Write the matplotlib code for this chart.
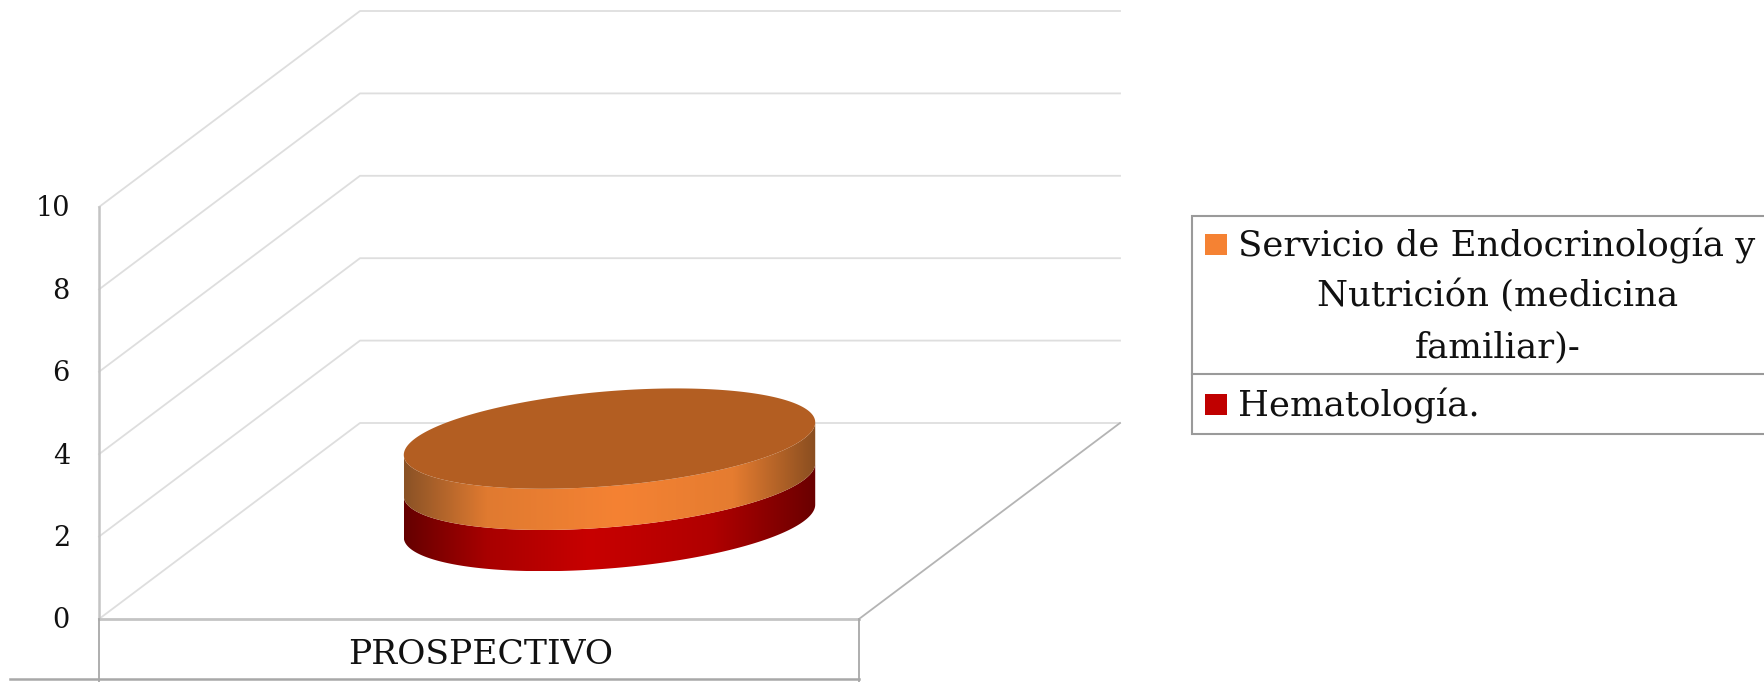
import numpy as np
import matplotlib
matplotlib.use("Agg")
from matplotlib import pyplot as plt
from matplotlib.colors import LinearSegmentedColormap
from matplotlib.patches import Polygon, Rectangle

y_ticks = [0, 2, 4, 6, 8, 10]
category = "PROSPECTIVO"
series_names = ["Hematología.", "Servicio de Endocrinología y"]
series_values = [1, 1]    # stacked from the floor up

RED = "#C00000"
ORANGE = "#F58233"
FONT = ["DejaVu Serif"]
TXT = "#111111"
LEG_SIZE = 25.6

# the fake 3d box, in image pixels
X0, X1 = 99, 859          # front edge of the floor
Y0 = 619                  # value 0 on the front edge
Y_UNIT = 41.2             # pixels per value
DX, DY = 261, 196         # depth of the box
RADIUS = 0.256            # cylinder radius, share of the floor


def proj(u, v, z):  # u along category, v along depth, z value
    return X0 + u*(X1-X0) + v*DX, Y0 - z*Y_UNIT - v*DY


def side_band(ax, z0, z1, colors, stops):
    # outline of the visible side between two heights
    t = np.linspace(0, 2*np.pi, 400)
    u = 0.5 + RADIUS*np.cos(t)
    v = 0.5 + RADIUS*np.sin(t)
    x, y = proj(u, v, 0)
    left, right = np.argmin(x), np.argmax(x)
    idx = np.arange(left, left+400) % 400
    stop = np.where(idx == right)[0][0]
    idx = idx[:stop+1]
    xb, yb = x[idx], y[idx]   # front half of the ellipse, left to right
    low = np.column_stack([xb, yb - z0*Y_UNIT])
    top = np.column_stack([xb, yb - z1*Y_UNIT])[::-1]
    outline = np.vstack([low, top])
    cmap = LinearSegmentedColormap.from_list("side", list(zip(stops, colors)))
    grad = np.linspace(0, 1, 256).reshape(1, -1)
    im = ax.imshow(grad, cmap=cmap, aspect="auto", interpolation="bilinear",
                   extent=[xb.min(), xb.max(), outline[:, 1].max(), outline[:, 1].min()],
                   zorder=3)
    clip = Polygon(outline, closed=True, transform=ax.transData, fc="none", ec="none")
    ax.add_patch(clip)
    im.set_clip_path(clip)


fig = plt.figure(figsize=(17.65, 6.82), dpi=100)
ax = fig.add_axes([0, 0, 1, 1])
ax.set_axis_off()

# walls and gridlines
for val in y_ticks:
    xa, ya = proj(0, 0, val)
    xb, yb = proj(0, 1, val)
    xc, yc = proj(1, 1, val)
    ax.plot([xa, xb, xc], [ya, yb, yc], color="#dedede", lw=1.3, zorder=1)
    ax.text(70, ya + 2, str(val), ha="right", va="center", fontsize=19.5,
            family=FONT, color=TXT)

xa, ya = proj(0, 0, 0)
xb, yb = proj(0, 0, y_ticks[-1])
ax.plot([xa, xb], [ya, yb], color="#c4c4c4", lw=1.8, zorder=2)

# floor
xr, yr = proj(1, 0, 0)
xe, ye = proj(1, 1, 0)
ax.plot([xr, xe], [yr, ye], color="#b4b4b4", lw=1.3, zorder=2)
ax.plot([xa, xr], [ya, yr], color="#c4c4c4", lw=2, zorder=2)

# category table under the floor
ax.plot([xa, xa], [ya, 682], color="#a8a8a8", lw=1.3, zorder=2)
ax.plot([xr, xr], [yr, 682], color="#a8a8a8", lw=1.3, zorder=2)
ax.plot([10, xr], [679, 679], color="#a8a8a8", lw=1.8, zorder=2)
ax.text((xa+xr)/2 + 2, 655, category, ha="center", va="center", fontsize=24.8,
        family=FONT, color=TXT)

# stacked cylinder
side_band(ax, 0, series_values[0],
          ["#650000", "#A80000", "#C80000", "#B00000", "#6A0000"],
          [0, 0.2, 0.45, 0.75, 1])
side_band(ax, series_values[0], sum(series_values),
          ["#8A5226", "#E07A30", ORANGE, "#E57C30", "#8A4E20"],
          [0, 0.2, 0.52, 0.8, 1])
t = np.linspace(0, 2*np.pi, 400)
cx, cy = proj(0.5 + RADIUS*np.cos(t), 0.5 + RADIUS*np.sin(t), sum(series_values))
ax.add_patch(Polygon(np.column_stack([cx, cy]), closed=True, fc="#B35E22", ec="none", zorder=4))

# legend table
ax.add_patch(Rectangle((1192, 216), 590, 218, fc="white", ec="#9a9a9a", lw=1.5, zorder=2))
ax.plot([1192, 1765], [374, 374], color="#9a9a9a", lw=1.5, zorder=3)
ax.add_patch(Rectangle((1205, 234), 22, 21, fc=ORANGE, ec="none", zorder=3))
ax.add_patch(Rectangle((1205, 394), 22, 21, fc=RED, ec="none", zorder=3))
ax.text(1238, 246, series_names[1], ha="left", va="center", fontsize=LEG_SIZE, family=FONT, color=TXT)
ax.text(1498, 296, "Nutrición (medicina", ha="center", va="center", fontsize=LEG_SIZE, family=FONT, color=TXT)
ax.text(1498, 347, "familiar)-", ha="center", va="center", fontsize=LEG_SIZE, family=FONT, color=TXT)
ax.text(1238, 406, series_names[0], ha="left", va="center", fontsize=LEG_SIZE, family=FONT, color=TXT)

ax.set_xlim(0, 1765)
ax.set_ylim(682, 0)
fig.savefig("out.png", dpi=100)
